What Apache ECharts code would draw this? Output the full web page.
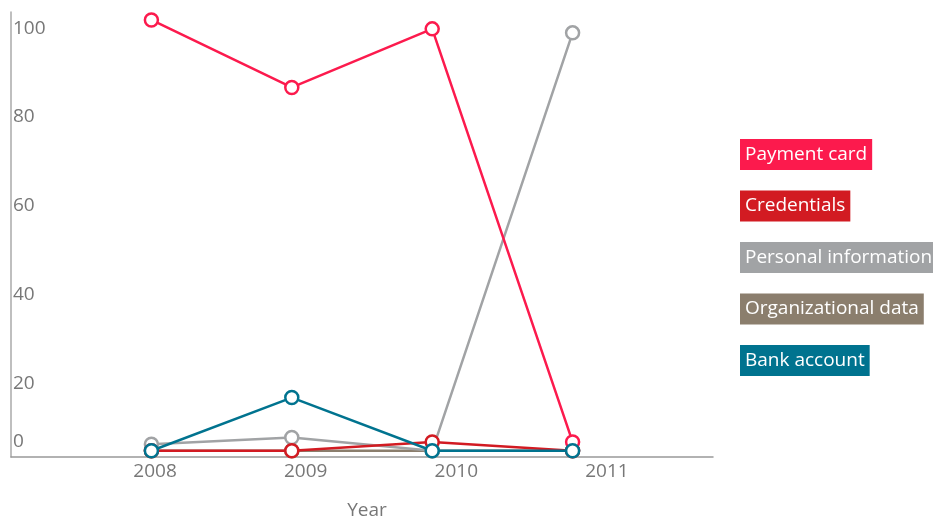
<!DOCTYPE html>
<html>
<head>
<meta charset="utf-8">
<script src="https://cdn.jsdelivr.net/npm/echarts@6/dist/echarts.min.js"></script>
<style>
    html, body {margin: 0; padding: 0; background: #fff;}
    #chart {width: 933px; height: 517px;}
</style>
</head>
<body>
<div id="chart"></div>
<script>
    "use strict";
    // slots used to place the points (first and last are empty)
    var slots = ['2007', '2008', '2009', '2010', '2011', '2012'];
    // year labels shown under the axis
    var yearTicks = [2008, 2009, 2010, 2011];
    var yTicks = [0, 20, 40, 60, 80, 100];

    var names = ['Payment card', 'Credentials', 'Personal information', 'Organizational data', 'Bank account'];
    var colors = ['#fc1a4d', '#d21b22', '#a1a3a5', '#8b7e6d', '#00738f'];

    var paymentCard = [null, 98.5, 83.3, 96.5, 3.4, null];
    var credentials = [null, 1.4, 1.4, 3.4, 1.4, null];
    var personalInfo = [null, 2.9, 4.4, 1.4, 95.6, null];
    var orgData = [null, 1.4, 1.4, 1.4, 1.4, null];
    var bankAccount = [null, 1.4, 13.4, 1.4, 1.4, null];

    var values = [paymentCard, credentials, personalInfo, orgData, bankAccount];
    var font = '"Open Sans", sans-serif';

    var chart = echarts.init(document.getElementById('chart'));

    var series = [];
    // drawing order: org, personal, credentials, payment, bank on top
    [3, 2, 1, 0, 4].forEach(function (i) {
        series.push({
            name: names[i],
            type: 'line',
            xAxisIndex: 0,
            data: values[i],
            symbol: 'circle',
            symbolSize: 13,
            clip: false,
            z: 2 + series.length,
            lineStyle: {color: colors[i], width: 2.5},
            itemStyle: {color: '#fff', borderColor: colors[i], borderWidth: 2.5},
            emphasis: {disabled: true}
        });
    });

    var option = {
        animation: false,
        grid: {left: 11, right: 220, top: 12, bottom: 60, containLabel: false, outerBoundsMode: 'none'},
        legend: {
            orient: 'vertical',
            left: 729,
            top: 134,
            itemWidth: 0,
            itemHeight: 0,
            itemGap: 20.5,
            icon: 'rect',
            selectedMode: false,
            data: names.map(function (n, i) {
                return {
                    name: n,
                    textStyle: {
                        color: '#fff',
                        fontSize: 19,
                        fontFamily: font,
                        backgroundColor: colors[i],
                        padding: [6, 5, 6, 5]
                    }
                };
            })
        },
        xAxis: [{
            type: 'category',
            data: slots,
            boundaryGap: false,
            show: false
        }, {
            type: 'value',
            min: 2007.044,
            max: 2011.704,
            position: 'bottom',
            name: 'Year',
            nameLocation: 'middle',
            nameGap: 44,
            nameTextStyle: {color: '#777', fontSize: 19, fontFamily: font, padding: [0, 0, 0, 10]},
            axisLine: {lineStyle: {color: '#999', width: 1.5}},
            axisTick: {show: false},
            splitLine: {show: false},
            axisLabel: {
                customValues: yearTicks,
                color: '#777',
                fontSize: 19,
                fontFamily: font,
                margin: 5,
                formatter: function (v) { return String(v); }
            }
        }],
        yAxis: {
            type: 'value',
            min: 0,
            max: 100.3,
            axisLine: {show: true, lineStyle: {color: '#aaa', width: 1.5}},
            axisTick: {show: false},
            splitLine: {show: false},
            axisLabel: {
                customValues: yTicks,
                inside: true,
                margin: 2,
                color: '#777',
                fontSize: 19,
                fontFamily: font,
                verticalAlign: 'top',
                lineHeight: 30,
                verticalAlignMinLabel: 'bottom'
            }
        },
        series: series
    };
    chart.setOption(option);
</script>
</body>
</html>
